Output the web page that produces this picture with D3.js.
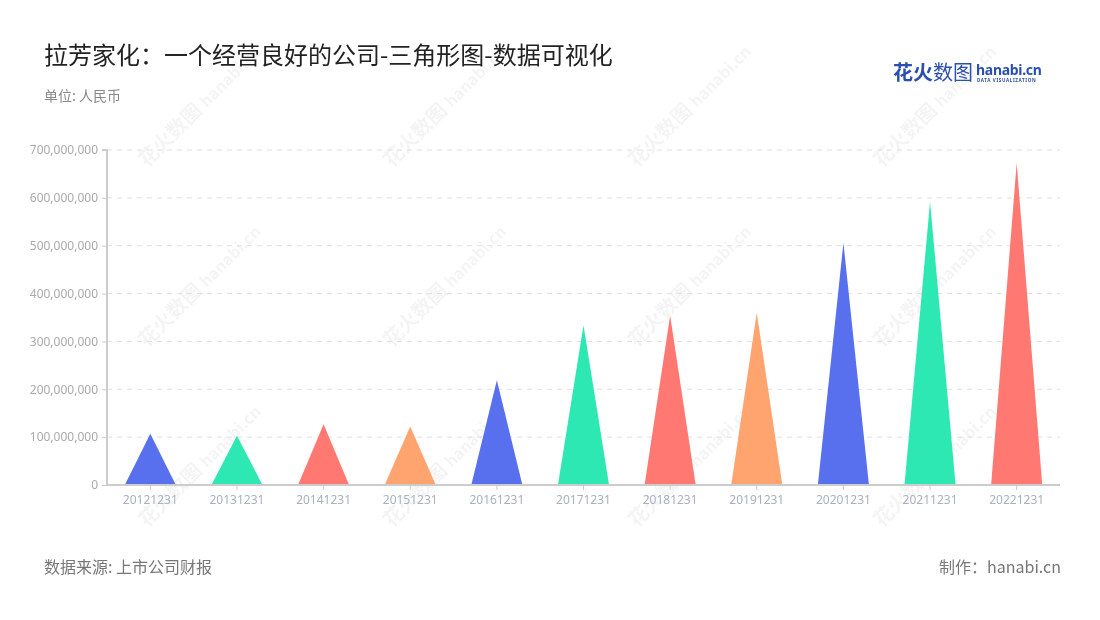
<!DOCTYPE html>
<html><head><meta charset="utf-8">
<script src="https://cdn.jsdelivr.net/npm/d3@7"></script>
<style>
body{margin:0;background:#fff;}
svg{display:block;font-family:"Noto Sans CJK SC","Noto Sans",sans-serif;}
</style></head>
<body><svg id="c" width="1100" height="620"></svg>
<script>
const categories = ["20121231","20131231","20141231","20151231","20161231","20171231","20181231","20191231","20201231","20211231","20221231"];
const values = [107000000,103000000,127000000,122000000,219000000,334000000,354000000,360000000,506000000,592000000,673000000];
const colors = ["#5870ED","#2DE8B2","#FF7871","#FFA36F"];
const yTicks = [0,100000000,200000000,300000000,400000000,500000000,600000000,700000000];

const svg = d3.select("#c");
const W=1100,H=620;
svg.append("rect").attr("width",W).attr("height",H).attr("fill","#fff");

const m={l:107,r:1060,t:150,b:485};
const x=d3.scaleBand().domain(categories).range([m.l,m.r]).paddingInner(0).paddingOuter(0);
const y=d3.scaleLinear().domain([0,700000000]).range([m.b,m.t]);

// watermarks
const wm = svg.append("g").attr("fill","#000").attr("opacity",0.045);
[130,375,620,865].forEach(cx=>{
  [150,330,510].forEach(cy=>{
    const g=wm.append("g").attr("transform",`translate(${cx+45},${cy-10}) rotate(-45)`);
    g.append("text").attr("x",-40).attr("y",0).attr("font-size",20).attr("font-weight","bold").text("花火数图");
    g.append("text").attr("x",45).attr("y",0).attr("font-size",16).attr("font-weight","bold").text("hanabi.cn");
  });
});

// grid
svg.append("g").selectAll("line").data(yTicks.slice(1)).join("line")
  .attr("x1",m.l).attr("x2",m.r).attr("y1",d=>y(d)).attr("y2",d=>y(d))
  .attr("stroke","#e0e0e0").attr("stroke-dasharray","5,5");

// triangles
const bw = x.bandwidth()*0.59;
svg.append("g").selectAll("path").data(values).join("path")
  .attr("d",(d,i)=>{const c=x(categories[i])+x.bandwidth()/2;
    return `M${c-bw/2},${y(0)}L${c},${y(d)}L${c+bw/2},${y(0)}Z`;})
  .attr("fill",(d,i)=>colors[i%4]);

// y axis
const ya = svg.append("g").attr("transform",`translate(${m.l},0)`)
  .call(d3.axisLeft(y).tickValues(yTicks).tickSize(5).tickPadding(4).tickFormat(d3.format(",")));
ya.select(".domain").attr("stroke","#ccc").attr("stroke-width",2).attr("d",`M-5,${m.t}H0V${m.b}`);
ya.selectAll(".tick line").attr("stroke","#ccc");
ya.selectAll("text").attr("fill","#aaa").attr("font-size",12).attr("font-family","'Noto Sans',sans-serif");

// x axis
const xa = svg.append("g").attr("transform",`translate(0,${m.b})`)
  .call(d3.axisBottom(x).tickSize(5).tickPadding(5));
xa.select(".domain").attr("stroke","#ccc").attr("stroke-width",2).attr("d",`M${m.l},0H${m.r}`);
xa.selectAll(".tick line").attr("stroke","#ccc");
xa.selectAll("text").attr("fill","#aab0c0").attr("font-size",12).attr("font-family","'Noto Sans',sans-serif");

// titles
svg.append("text").attr("x",44).attr("y",64).attr("font-size",24).attr("fill","#222").text("拉芳家化：一个经营良好的公司-三角形图-数据可视化");
svg.append("text").attr("x",44).attr("y",101).attr("font-size",14).attr("fill","#888").text("单位: 人民币");
svg.append("text").attr("x",44).attr("y",573).attr("font-size",16).attr("fill","#777").text("数据来源: 上市公司财报");
svg.append("text").attr("x",1061).attr("y",573).attr("font-size",16).attr("fill","#777").attr("text-anchor","end").text("制作：hanabi.cn");

// logo
const lg=svg.append("g");
lg.append("text").attr("x",893).attr("y",80).attr("font-size",20).attr("font-weight","bold").attr("fill","#2a4fb0").text("花火");
lg.append("text").attr("x",933).attr("y",80).attr("font-size",20).attr("fill","#2a4fb0").text("数图");
lg.append("text").attr("x",976).attr("y",75).attr("font-size",14).attr("font-weight","bold").attr("fill","#2a4fb0").attr("letter-spacing","-0.3").attr("font-family","'Noto Sans',sans-serif").text("hanabi.cn");
lg.append("text").attr("x",977).attr("y",82).attr("font-size",4.6).attr("font-weight","bold").attr("fill","#2a4fb0").attr("letter-spacing","0.6").attr("font-family","'Noto Sans',sans-serif").text("DATA VISUALIZATION");
</script></body></html>
